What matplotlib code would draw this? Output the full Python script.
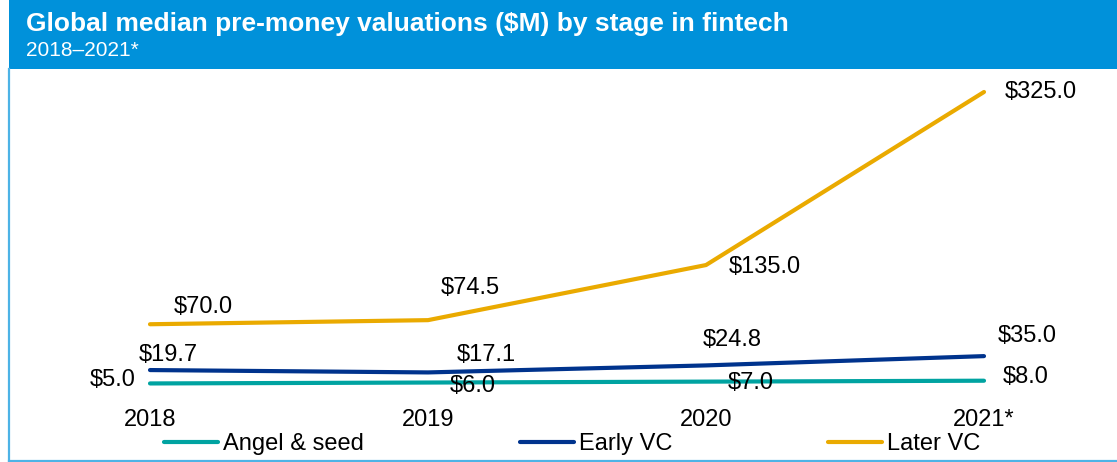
import numpy as np
import matplotlib.pyplot as plt
from matplotlib.patches import Rectangle
from matplotlib.lines import Line2D

plt.rcParams['font.family'] = ['Liberation Sans', 'DejaVu Sans']

years = ['2018', '2019', '2020', '2021*']
angel_seed = [5.0, 6.0, 7.0, 8.0]
early_vc = [19.7, 17.1, 24.8, 35.0]
later_vc = [70.0, 74.5, 135.0, 325.0]

series = [
    ('Angel & seed', angel_seed, '#00A3A1', [(-37, 3), (45, -3), (45, -1), (42, 4)]),
    ('Early VC', early_vc, '#00338D', [(18, 15), (58, 17), (26, 25), (43, 20)]),
    ('Later VC', later_vc, '#EAAA00', [(53, 17), (42, 32), (59, -2), (57, 0)]),
]

W, H = 1117, 462
fig = plt.figure(figsize=(W / 100, H / 100), dpi=100)

# header band and frame
fig.add_artist(Rectangle((9 / W, 1 - 69 / H), 1 - 9 / W, 69 / H,
                         transform=fig.transFigure, color='#0091DA', lw=0))
fig.add_artist(Line2D([8.5 / W, 8.5 / W], [1 / H, 1 - 69 / H],
                      transform=fig.transFigure, color='#4DB3E6', lw=1.6))
fig.add_artist(Line2D([8.5 / W, 1], [1.2 / H, 1.2 / H],
                      transform=fig.transFigure, color='#4DB3E6', lw=1.6))
fig.text(26 / W, 1 - 24 / H, 'Global median pre-money valuations ($M) by stage in fintech',
         color='white', fontsize=19, fontweight='bold', va='center', ha='left')
fig.text(26 / W, 1 - 50 / H, '2018\u20132021*', color='white', fontsize=15,
         va='center', ha='left')

ax = fig.add_axes([150 / W, 74 / H, 834 / W, 340 * 0.9108 / H])
x = np.arange(len(years))
for name, vals, col, offs in series:
    ax.plot(x, vals, color=col, lw=3, solid_capstyle='round', label=name, clip_on=False)
    for xi, v, (dx, dy) in zip(x, vals, offs):
        ax.annotate(f'${v:.1f}', (xi, v), xytext=(dx * 0.72, dy * 0.72),
                    textcoords='offset points', ha='center', va='center',
                    fontsize=17, color='black', annotation_clip=False)

ax.set_xlim(0, 3)
ax.set_ylim(0, 340)
ax.set_xticks(x, years, fontsize=17)
ax.tick_params(axis='x', length=0, pad=15)
ax.set_yticks([])
for s in ax.spines.values():
    s.set_visible(False)

fig.legend(loc='center', bbox_to_anchor=(572 / W, 1 - 444 / H), ncol=3, frameon=False,
           fontsize=17, handlelength=2.3, handletextpad=0.2, columnspacing=6.6)

fig.savefig('out.png', dpi=100)
